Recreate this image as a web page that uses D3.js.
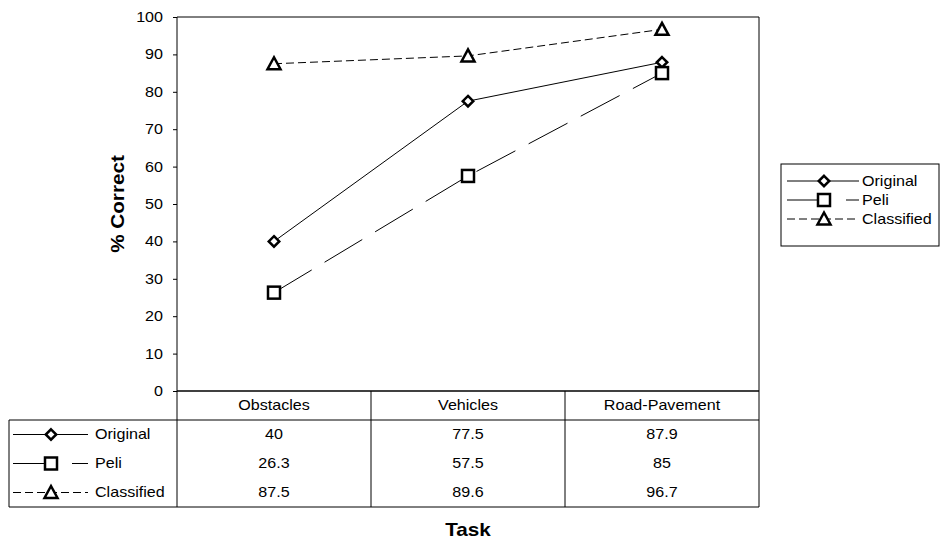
<!DOCTYPE html>
<html><head><meta charset="utf-8">
<script src="https://cdn.jsdelivr.net/npm/d3@7"></script>
<style>
body{margin:0;background:#fff;}
svg text{font-family:"Liberation Sans",Arial,sans-serif;fill:#000;}
</style></head>
<body><svg id="c" width="941" height="539"></svg>
<script>
const categories = ["Obstacles","Vehicles","Road-Pavement"];
const seriesNames = ["Original","Peli","Classified"];
const original = [40, 77.5, 87.9];
const peli = [26.3, 57.5, 85];
const classified = [87.5, 89.6, 96.7];
const yTicks = [0,10,20,30,40,50,60,70,80,90,100];

const series = [
  {name:seriesNames[0], values:original, dash:null, marker:"diamond"},
  {name:seriesNames[1], values:peli, dash:"44,15", marker:"square"},
  {name:seriesNames[2], values:classified, dash:"8,4", marker:"triangle"}
];

const svg = d3.select("#c");
const L=177, R=759, T=17, B=391;
const rowH = 29, tableLeft = 9;
const fs = 14, sx = 1.15;

const x = d3.scaleBand().domain(categories).range([L,R]);
const y = d3.scaleLinear().domain([0,100]).range([B,T]);

function txt(g, px, py, str, anchor, size, bold, rot){
  return g.append("text")
    .attr("transform",`translate(${px},${py})${rot?` rotate(${rot})`:""} scale(${sx},1)`)
    .attr("text-anchor",anchor||"start").attr("dy", rot||bold ? null : "0.35em")
    .style("font-size",(size||fs)+"px").style("font-weight",bold?"bold":null).text(str);
}

// y axis
const yAxis = d3.axisLeft(y).tickValues(yTicks).tickSize(4).tickFormat("");
const gy = svg.append("g").attr("transform",`translate(${L},0)`).call(yAxis);
gy.select(".domain").remove();
gy.selectAll("line").attr("stroke","#000");
yTicks.forEach(t=>txt(svg, L-14, y(t), t, "end"));

// plot frame
svg.append("line").attr("x1",L).attr("x2",L).attr("y1",T).attr("y2",B+rowH*4).attr("stroke","#000");
svg.append("line").attr("x1",L).attr("x2",R).attr("y1",T).attr("y2",T).attr("stroke","#000");
svg.append("line").attr("x1",R).attr("x2",R).attr("y1",T).attr("y2",B+rowH*4).attr("stroke","#000");
svg.append("line").attr("x1",L).attr("x2",R).attr("y1",y(0)).attr("y2",y(0)).attr("stroke","#000").attr("stroke-width",1.5);

// table
const tTop = B + rowH;
svg.append("line").attr("x1",tableLeft).attr("x2",R).attr("y1",tTop).attr("y2",tTop).attr("stroke","#000");
svg.append("line").attr("x1",tableLeft).attr("x2",R).attr("y1",B+rowH*4).attr("y2",B+rowH*4).attr("stroke","#000");
svg.append("line").attr("x1",tableLeft).attr("x2",tableLeft).attr("y1",tTop).attr("y2",B+rowH*4).attr("stroke","#000");
categories.forEach((c,i)=>{
  if(i>0) svg.append("line").attr("x1",x(c)).attr("x2",x(c)).attr("y1",B).attr("y2",B+rowH*4).attr("stroke","#000");
  txt(svg, x(c)+x.bandwidth()/2, B+rowH/2, c, "middle");
});

function marker(g, type, cx, cy){
  if(type==="diamond"){
    g.append("path").attr("d",d3.symbol(d3.symbolDiamond2,70)()).attr("transform",`translate(${cx},${cy})`)
     .attr("fill","#fff").attr("stroke","#000").attr("stroke-width",2.5);
  } else if(type==="square"){
    g.append("rect").attr("x",cx-6).attr("y",cy-6).attr("width",12).attr("height",12)
     .attr("fill","#fff").attr("stroke","#000").attr("stroke-width",2.5);
  } else {
    g.append("path").attr("d",`M${cx},${cy-6.5}L${cx+6.5},${cy+5.5}L${cx-6.5},${cy+5.5}Z`)
     .attr("fill","#fff").attr("stroke","#000").attr("stroke-width",2.5).attr("stroke-linejoin","miter");
  }
}

const line = d3.line().x((d,i)=>x(categories[i])+x.bandwidth()/2).y(d=>y(d));
series.forEach((s,si)=>{
  svg.append("path").attr("d",line(s.values)).attr("fill","none").attr("stroke","#000").attr("stroke-width",1)
    .attr("stroke-dasharray",s.dash);
});
series.forEach((s,si)=>{
  const g = svg.append("g");
  s.values.forEach((v,i)=>marker(g,s.marker,x(categories[i])+x.bandwidth()/2,y(v)));
  const ry = tTop + rowH*si + rowH/2;
  s.values.forEach((v,i)=>txt(svg, x(categories[i])+x.bandwidth()/2, ry, v, "middle"));
  svg.append("line").attr("x1",13).attr("x2",88).attr("y1",ry).attr("y2",ry).attr("stroke","#000").attr("stroke-dasharray",s.dash);
  marker(svg.append("g"),s.marker,51,ry);
  txt(svg, 95, ry, s.name, "start");
});

// legend
const lg = svg.append("g");
lg.append("rect").attr("x",781).attr("y",164).attr("width",158).attr("height",82).attr("fill","#fff").attr("stroke","#000");
series.forEach((s,si)=>{
  const ly = 181 + si*19;
  lg.append("line").attr("x1",787).attr("x2",859).attr("y1",ly).attr("y2",ly).attr("stroke","#000").attr("stroke-dasharray",s.dash);
  marker(lg,s.marker,824,ly);
  txt(lg, 862, ly, s.name, "start");
});

// axis titles
txt(svg, 124, (T+B)/2, "% Correct", "middle", 18, true, -90);
txt(svg, x(categories[1])+x.bandwidth()/2, 536, "Task", "middle", 18, true);
</script></body></html>
